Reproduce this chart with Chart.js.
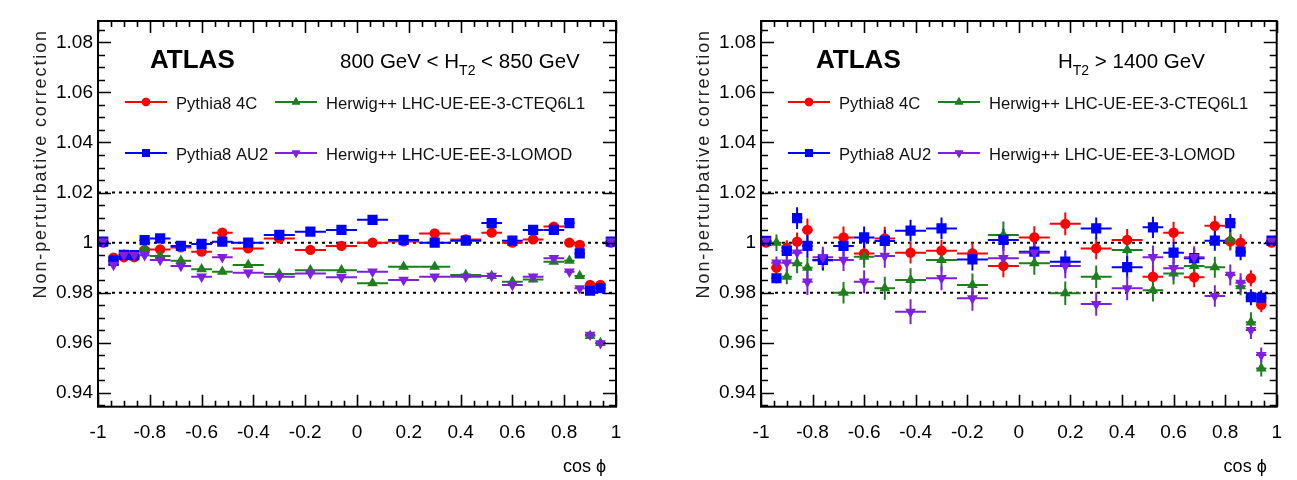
<!DOCTYPE html>
<html><head><meta charset="utf-8">
<script src="https://cdn.jsdelivr.net/npm/chart.js@4.4.1/dist/chart.umd.min.js"></script>
<style>
html,body{margin:0;padding:0;background:#fff;}
#wrap{position:relative;width:1297px;height:480px;overflow:hidden;background:#fff;}
canvas{position:absolute;top:0;}
</style></head><body>
<div id="wrap"><canvas id="c1" width="648" height="480" style="left:0px"></canvas><canvas id="c2" width="649" height="480" style="left:648px"></canvas></div>
<script>
// ---------- data ----------
const binEdges = [-1,-0.96,-0.92,-0.88,-0.84,-0.8,-0.72,-0.64,-0.56,-0.48,-0.36,-0.24,-0.12,0,0.12,0.24,0.36,0.48,0.56,0.64,0.72,0.8,0.84,0.88,0.92,0.96,1];
const xTickValues = [-1,-0.8,-0.6,-0.4,-0.2,0,0.2,0.4,0.6,0.8,1];
const xTickLabels = ['-1','-0.8','-0.6','-0.4','-0.2','0','0.2','0.4','0.6','0.8','1'];
const yTickValues = [0.94,0.96,0.98,1,1.02,1.04,1.06,1.08];
const yTickLabels = ['0.94','0.96','0.98','1','1.02','1.04','1.06','1.08'];
const refLines = [0.98,1,1.02];
const seriesNames = ['Pythia8 4C','Pythia8 AU2','Herwig++ LHC-UE-EE-3-CTEQ6L1','Herwig++ LHC-UE-EE-3-LOMOD'];

// 800 GeV < HT2 < 850 GeV
const leftP4C   = [1.000,0.9940,0.9942,0.9942,0.9970,0.9973,0.9981,0.9964,1.0040,0.9977,1.0017,0.9971,0.9987,1.0000,1.0005,1.0037,1.0013,1.0040,1.0000,1.0013,1.0064,1.0000,0.9991,0.9831,0.9831,1.0000];
const leftAU2   = [1.0004,0.9928,0.9951,0.9950,1.0010,1.0017,0.9987,0.9995,1.0004,1.0000,1.0031,1.0044,1.0051,1.0091,1.0011,1.0000,1.0008,1.0078,1.0008,1.0051,1.0051,1.0078,0.9957,0.9808,0.9818,1.0004];
const leftCTEQ  = [1.0000,0.9930,0.9950,0.9945,0.9977,0.9947,0.9928,0.9894,0.9884,0.9911,0.9875,0.9890,0.9890,0.9838,0.9904,0.9904,0.9871,0.9867,0.9844,0.9853,0.9924,0.9928,0.9867,0.9628,0.9600,1.0000];
const leftLOMOD = [1.0005,0.9911,0.9950,0.9950,0.9950,0.9931,0.9907,0.9864,0.9942,0.9880,0.9864,0.9877,0.9862,0.9884,0.9851,0.9864,0.9864,0.9867,0.9831,0.9864,0.9938,0.9884,0.9818,0.9632,0.9598,1.0005];
const leftErr   = [0.0004,0.0008,0.0008,0.0008,0.0008,0.0009,0.0009,0.0010,0.0010,0.0010,0.0011,0.0011,0.0011,0.0011,0.0011,0.0011,0.0010,0.0010,0.0010,0.0009,0.0009,0.0008,0.0008,0.0008,0.0008,0.0004];

// HT2 > 1400 GeV
const rightP4C   = [1.0000,0.9900,0.9980,1.0004,1.0051,0.9930,1.0021,0.9957,1.0017,0.9960,0.9968,0.9957,0.9907,1.0021,1.0075,0.9977,1.0011,0.9864,1.0040,0.9862,1.0067,1.0005,1.0000,0.9858,0.9752,1.0000];
const rightAU2   = [1.0007,0.9858,0.9967,1.0098,0.9987,0.9931,0.9987,1.0021,1.0007,1.0048,1.0057,0.9933,1.0011,0.9964,0.9924,1.0057,0.9902,1.0061,0.9960,0.9938,1.0008,1.0078,0.9964,0.9782,0.9780,1.0008];
const rightCTEQ  = [1.0000,1.0000,0.9864,0.9918,0.9900,0.9930,0.9800,0.9944,0.9818,0.9851,0.9931,0.9831,1.0031,0.9918,0.9798,0.9864,0.9971,0.9810,0.9877,0.9907,0.9902,1.0013,0.9826,0.9682,0.9498,1.0000];
const rightLOMOD = [1.0007,0.9920,0.9920,0.9960,0.9844,0.9942,0.9931,0.9844,0.9947,0.9724,0.9858,0.9778,0.9938,0.9960,0.9907,0.9755,0.9818,0.9942,0.9898,0.9942,0.9787,0.9871,0.9840,0.9651,0.9551,1.0007];
const rightErrP4C   = [0.0008,0.0020,0.0030,0.0037,0.0045,0.0040,0.0043,0.0042,0.0046,0.0043,0.0043,0.0044,0.0045,0.0044,0.0045,0.0043,0.0044,0.0042,0.0043,0.0040,0.0040,0.0036,0.0034,0.0032,0.0030,0.0008];
const rightErrAU2   = [0.0008,0.0020,0.0030,0.0043,0.0045,0.0040,0.0042,0.0043,0.0044,0.0043,0.0043,0.0044,0.0045,0.0044,0.0045,0.0043,0.0044,0.0042,0.0043,0.0040,0.0040,0.0036,0.0034,0.0032,0.0030,0.0008];
const rightErrCTEQ  = [0.0008,0.0033,0.0030,0.0040,0.0045,0.0042,0.0043,0.0044,0.0046,0.0047,0.0045,0.0046,0.0053,0.0046,0.0047,0.0045,0.0046,0.0045,0.0044,0.0042,0.0042,0.0040,0.0036,0.0040,0.0032,0.0008];
const rightErrLOMOD = [0.0008,0.0025,0.0032,0.0040,0.0053,0.0042,0.0044,0.0046,0.0047,0.0050,0.0048,0.0050,0.0050,0.0048,0.0049,0.0047,0.0048,0.0047,0.0046,0.0044,0.0043,0.0042,0.0038,0.0036,0.0030,0.0008];

// ---------- styles ----------
const COLORS = ['#ff0000','#0000ff','#1d7f1d','#7f1fdf'];
const STYLES = [
  {pointStyle:'circle', rot:0, r:5.2, lr:4.2},
  {pointStyle:'rect', rot:0, r:7.2, lr:5.6},
  {pointStyle:'triangle', rot:0, r:6.2, lr:5},
  {pointStyle:'triangle', rot:180, r:6.2, lr:5}
];
const FONT = '"Liberation Sans", Arial, Helvetica, sans-serif';

function mkData(vals, errs){
  return vals.map((v,i)=>({x:(binEdges[i]+binEdges[i+1])/2, y:v, xlo:binEdges[i], xhi:binEdges[i+1], err:errs[i]}));
}

const errBarPlugin = {
  id:'errbars',
  beforeDatasetsDraw(chart){
    const ctx = chart.ctx, xs = chart.scales.x, ys = chart.scales.y, a = chart.chartArea;
    ctx.save();
    ctx.beginPath(); ctx.rect(a.left,a.top,a.right-a.left,a.bottom-a.top); ctx.clip();
    ctx.strokeStyle = '#000'; ctx.lineWidth = 2; ctx.setLineDash([3,4]);
    refLines.forEach(v=>{const y=ys.getPixelForValue(v); ctx.beginPath(); ctx.moveTo(a.left,y); ctx.lineTo(a.right,y); ctx.stroke();});
    ctx.setLineDash([]);
    const order = [0,2,1,3];
    order.forEach(di=>{
      const ds = chart.data.datasets[di];
      ctx.strokeStyle = ds.borderColor; ctx.lineWidth = 2;
      ds.data.forEach(p=>{
        const y = ys.getPixelForValue(p.y);
        ctx.beginPath();
        ctx.moveTo(xs.getPixelForValue(p.xlo), y); ctx.lineTo(xs.getPixelForValue(p.xhi), y);
        const x = xs.getPixelForValue(p.x);
        ctx.moveTo(x, ys.getPixelForValue(p.y-p.err)); ctx.lineTo(x, ys.getPixelForValue(p.y+p.err));
        ctx.stroke();
      });
    });
    ctx.restore();
  },
  afterDraw(chart){
    const ctx = chart.ctx, xs = chart.scales.x, ys = chart.scales.y, a = chart.chartArea;
    const o = chart.options.plugins.errbars;
    ctx.save();
    ctx.strokeStyle='#000'; ctx.lineWidth=2;
    ctx.strokeRect(a.left, a.top, a.right-a.left, a.bottom-a.top);
    ctx.lineWidth=1.6;
    ctx.beginPath();
    const xStep = (xTickValues[1]-xTickValues[0])/4;
    for(let i=0;i<xTickValues.length;i++){
      for(let k=0;k<4;k++){
        const v = xTickValues[i]+k*xStep; if(v>xs.max+1e-9) break;
        const x = Math.round(xs.getPixelForValue(v))+0.5; const L = k===0?12:6;
        ctx.moveTo(x,a.bottom); ctx.lineTo(x,a.bottom-L);
        ctx.moveTo(x,a.top); ctx.lineTo(x,a.top+L);
      }
    }
    const yStep = (yTickValues[1]-yTickValues[0])/4;
    for(let v=yTickValues[0]-yStep; v<=ys.max+1e-9; v+=yStep){
      if(v<ys.min) continue;
      const isMaj = yTickValues.some(t=>Math.abs(t-v)<1e-7);
      const y = Math.round(ys.getPixelForValue(v))+0.5; const L = isMaj?13:7;
      ctx.moveTo(a.left,y); ctx.lineTo(a.left+L,y);
      ctx.moveTo(a.right,y); ctx.lineTo(a.right-L,y);
    }
    ctx.stroke();
    ctx.fillStyle='#000';
    ctx.font = '18px '+FONT;
    ctx.textAlign='right'; ctx.textBaseline='alphabetic';
    ctx.fillText('cos \u03D5', a.right-10, 472);
    ctx.save();
    ctx.translate(a.left-52, a.top+8); ctx.rotate(-Math.PI/2);
    ctx.font = '18px '+FONT;
    try{ ctx.letterSpacing = '1.9px'; }catch(e){}
    ctx.fillStyle='#222';
    ctx.textAlign='right'; ctx.textBaseline='alphabetic';
    ctx.fillText('Non-perturbative correction', 0, 0);
    ctx.restore();
    ctx.textAlign='left';
    ctx.font = 'bold 26px '+FONT;
    ctx.fillText('ATLAS', a.left+o.atlasDx, 68);
    let x = a.left+o.labelDx;
    o.labelParts.forEach(pt=>{
      ctx.font = (pt.sub?'14px ':'20.5px ')+FONT;
      ctx.fillText(pt.t, x, pt.sub?75:68);
      x += ctx.measureText(pt.t).width;
    });
    const rows = [[0,2],[1,3]];
    const rowY = [102,153];
    const colDx = [27,177];
    rows.forEach((r,ri)=>{
      r.forEach((di,ci)=>{
        const y = rowY[ri], x0 = a.left+colDx[ci];
        ctx.strokeStyle = COLORS[di]; ctx.lineWidth=2;
        ctx.beginPath(); ctx.moveTo(x0,y); ctx.lineTo(x0+42,y); ctx.stroke();
        ctx.fillStyle = COLORS[di];
        Chart.helpers.drawPoint(ctx,{pointStyle:STYLES[di].pointStyle, rotation:STYLES[di].rot, radius:STYLES[di].lr, borderWidth:0}, x0+21, y);
        ctx.fill();
        ctx.fillStyle='#111';
        ctx.font = '16.6px '+FONT; ctx.textBaseline='middle';
        ctx.fillText(seriesNames[di], x0+51, y+2);
        ctx.textBaseline='alphabetic';
      });
    });
    ctx.restore();
  }
};

function makeChart(id, vals, errs, pad, yWidth, atlasDx, labelDx, labelParts){
  const datasets = vals.map((v,i)=>({
    label: seriesNames[i],
    data: mkData(v, errs[i]),
    borderColor: COLORS[i], backgroundColor: COLORS[i],
    pointStyle: STYLES[i].pointStyle, pointRotation: STYLES[i].rot,
    pointRadius: STYLES[i].r, pointHoverRadius: STYLES[i].r, pointBorderWidth: 0,
    showLine:false, order:[3,1,2,0][i]
  }));
  return new Chart(document.getElementById(id), {
    type:'scatter',
    data:{datasets},
    plugins:[errBarPlugin],
    options:{
      responsive:false, animation:false, events:[],
      layout:{padding:pad},
      plugins:{legend:{display:false}, tooltip:{enabled:false}, errbars:{atlasDx, labelDx, labelParts}},
      scales:{
        x:{type:'linear', min:-1, max:1,
           afterBuildTicks:s=>{s.ticks = xTickValues.map(v=>({value:v}));},
           afterFit:s=>{s.height = 73.3;},
           ticks:{callback:(v)=>xTickLabels[xTickValues.findIndex(t=>Math.abs(t-v)<1e-9)], font:{family:FONT, size:19}, color:'#000', padding:15, maxRotation:0, autoSkip:false},
           grid:{display:false, drawTicks:false}, border:{display:false}},
        y:{type:'linear', min:0.9345, max:1.0885,
           afterBuildTicks:s=>{s.ticks = yTickValues.map(v=>({value:v}));},
           afterFit:s=>{s.width = yWidth;},
           ticks:{callback:(v)=>yTickLabels[yTickValues.findIndex(t=>Math.abs(t-v)<1e-9)], font:{family:FONT, size:19}, color:'#000', padding:5, autoSkip:false},
           grid:{display:false, drawTicks:false}, border:{display:false}}
      }
    }
  });
}

makeChart('c1', [leftP4C,leftAU2,leftCTEQ,leftLOMOD], [leftErr,leftErr,leftErr,leftErr], {top:21,right:32,left:0,bottom:0}, 98, 52, 242,
  [{t:'800 GeV < H'},{t:'T2',sub:true},{t:' < 850 GeV'}]);
makeChart('c2', [rightP4C,rightAU2,rightCTEQ,rightLOMOD], [rightErrP4C,rightErrAU2,rightErrCTEQ,rightErrLOMOD], {top:21,right:18,left:0,bottom:0}, 113, 55, 297,
  [{t:'H'},{t:'T2',sub:true},{t:' > 1400 GeV'}]);
</script>
</body></html>
